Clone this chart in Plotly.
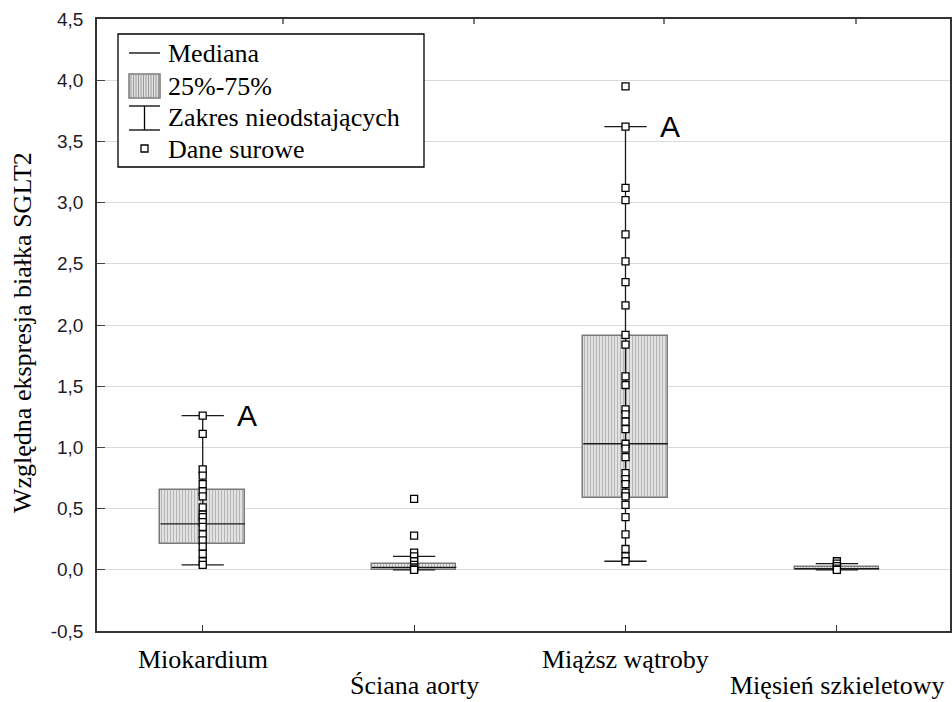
import plotly.graph_objects as go

# ---- data -------------------------------------------------------------
categories = ["Miokardium", "Ściana aorty", "Miąższ wątroby", "Mięsień szkieletowy"]

q1 = [0.21, 0.00, 0.59, 0.00]
median = [0.375, 0.02, 1.03, 0.01]
q3 = [0.65, 0.05, 1.91, 0.025]
whisker_low = [0.04, 0.00, 0.07, 0.00]
whisker_high = [1.26, 0.11, 3.62, 0.05]

raw_miokardium = [1.26, 1.11, 0.82, 0.77, 0.70, 0.64, 0.60, 0.51, 0.45, 0.43,
                  0.39, 0.35, 0.29, 0.24, 0.19, 0.13, 0.07, 0.04]
raw_aorta = [0.58, 0.28, 0.14, 0.11, 0.07, 0.04, 0.02, 0.01, 0.00]
raw_watroba = [3.95, 3.62, 3.12, 3.02, 2.74, 2.52, 2.35, 2.16, 1.92, 1.84,
               1.58, 1.51, 1.31, 1.27, 1.21, 1.15, 1.03, 0.99, 0.92, 0.79,
               0.74, 0.70, 0.63, 0.60, 0.53, 0.43, 0.29, 0.17, 0.11, 0.07]
raw_miesien = [0.07, 0.05, 0.03, 0.01, 0.00]
raw_values = [raw_miokardium, raw_aorta, raw_watroba, raw_miesien]

y_ticks = [-0.5, 0.0, 0.5, 1.0, 1.5, 2.0, 2.5, 3.0, 3.5, 4.0, 4.5]
y_tick_text = ["-0,5", "0,0", "0,5", "1,0", "1,5", "2,0", "2,5", "3,0", "3,5", "4,0", "4,5"]

y_title = "Względna ekspresja białka SGLT2"

# groups flagged with letter "A" (label sits next to the upper whisker)
letter_groups = [0, 2]
letter = "A"

legend_labels = ["Mediana", "25%-75%", "Zakres nieodstających", "Dane surowe"]

# ---- styling ----------------------------------------------------------
BOX_W = 0.40
CAP_W = 0.20
SERIF = "Liberation Serif, Times New Roman, serif"
SANS = "Liberation Sans, Arial, sans-serif"

W, H = 952, 702
L, R, T, B = 97, 950, 19, 631


def px(x):
    """pixel column -> paper x"""
    return (x - L) / (R - L)


def py(y):
    """pixel row -> paper y"""
    return (B - y) / (B - T)


xpos = list(range(len(categories)))

fig = go.Figure()

# interquartile boxes, hatched with vertical lines
fig.add_trace(go.Bar(
    x=xpos, y=[b - a for a, b in zip(q1, q3)], base=q1, width=BOX_W,
    marker=dict(color="#e0e0e0",
                line=dict(color="#7a7a7a", width=1.5),
                pattern=dict(shape="|", fgcolor="#8a8a8a", bgcolor="#e2e2e2",
                             size=3, solidity=0.35)),
    showlegend=False, hoverinfo="skip"))

# whiskers and caps
wx, wy = [], []
for i in xpos:
    wx += [i, i, None]
    wy += [whisker_low[i], whisker_high[i], None]
    for v in (whisker_low[i], whisker_high[i]):
        wx += [i - CAP_W / 2, i + CAP_W / 2, None]
        wy += [v, v, None]
fig.add_trace(go.Scatter(x=wx, y=wy, mode="lines",
                         line=dict(color="#1a1a1a", width=1.3),
                         showlegend=False, hoverinfo="skip"))

# medians
mx, my = [], []
for i in xpos:
    mx += [i - BOX_W / 2, i + BOX_W / 2, None]
    my += [median[i], median[i], None]
fig.add_trace(go.Scatter(x=mx, y=my, mode="lines",
                         line=dict(color="#1a1a1a", width=1.3),
                         showlegend=False, hoverinfo="skip"))

# raw data points
px_, py_ = [], []
for i, vals in enumerate(raw_values):
    px_ += [i] * len(vals)
    py_ += vals
fig.add_trace(go.Scatter(x=px_, y=py_, mode="markers",
                         marker=dict(symbol="square", size=7, color="white",
                                     line=dict(color="black", width=1.3)),
                         showlegend=False, hoverinfo="skip"))

# letters next to the upper whiskers
for i in letter_groups:
    fig.add_annotation(x=i + 0.21, y=whisker_high[i], text=letter,
                       showarrow=False, xanchor="center", yanchor="middle",
                       font=dict(family=SANS, size=30, color="black"))

# category labels, staggered over two rows
for i, name in enumerate(categories):
    row_y = 659 if i % 2 == 0 else 686
    fig.add_annotation(x=i, xref="x", y=py(row_y), yref="paper", text=name,
                       showarrow=False, xanchor="center", yanchor="middle",
                       borderpad=0,
                       font=dict(family=SERIF, size=26, color="black"))

# y axis title
fig.add_annotation(xref="paper", yref="paper", x=px(22), y=py(333), text=y_title,
                   textangle=-90, showarrow=False, xanchor="center", yanchor="middle",
                   font=dict(family=SERIF, size=26, color="black"))

# ---- legend drawn by hand ---------------------------------------------
shapes = []
shapes.append(dict(type="rect", xref="paper", yref="paper",
                   x0=px(118), x1=px(424), y0=py(167), y1=py(34),
                   line=dict(color="black", width=1.3), fillcolor="white", layer="above"))
# median symbol
shapes.append(dict(type="line", xref="paper", yref="paper",
                   x0=px(129), x1=px(160), y0=py(53), y1=py(53),
                   line=dict(color="black", width=1.3), layer="above"))
# hatched box symbol
shapes.append(dict(type="rect", xref="paper", yref="paper",
                   x0=px(129), x1=px(160), y0=py(98), y1=py(74),
                   line=dict(color="#7a7a7a", width=1.5), fillcolor="#e2e2e2", layer="above"))
hx = 131
while hx < 159:
    shapes.append(dict(type="line", xref="paper", yref="paper",
                       x0=px(hx), x1=px(hx), y0=py(97), y1=py(75),
                       line=dict(color="#9a9a9a", width=1), layer="above"))
    hx += 2.5
# whisker symbol
for yy in (106, 130):
    shapes.append(dict(type="line", xref="paper", yref="paper",
                       x0=px(129), x1=px(160), y0=py(yy), y1=py(yy),
                       line=dict(color="black", width=1.3), layer="above"))
shapes.append(dict(type="line", xref="paper", yref="paper",
                   x0=px(144.5), x1=px(144.5), y0=py(106), y1=py(130),
                   line=dict(color="black", width=1.3), layer="above"))
# raw data symbol
shapes.append(dict(type="rect", xref="paper", yref="paper",
                   x0=px(141), x1=px(148), y0=py(152), y1=py(145),
                   line=dict(color="black", width=1.3), fillcolor="white", layer="above"))

# small ticks on the top frame
for tx in (283, 474, 664, 856):
    shapes.append(dict(type="line", xref="paper", yref="paper",
                       x0=px(tx), x1=px(tx), y0=1, y1=py(T + 5),
                       line=dict(color="#333", width=1.3), layer="above"))

for lbl, yy in zip(legend_labels, (53, 86, 118, 149)):
    fig.add_annotation(xref="paper", yref="paper", x=px(166), y=py(yy),
                       text=lbl, showarrow=False, xanchor="left", yanchor="middle",
                       font=dict(family=SERIF, size=26, color="black"))

fig.update_layout(
    width=W, height=H,
    margin=dict(l=L, r=W - R, t=T, b=H - B),
    paper_bgcolor="white", plot_bgcolor="white",
    shapes=shapes,
    bargap=0,
    xaxis=dict(range=[-0.5, 3.535], tickvals=xpos, showticklabels=False,
               automargin=False,
               showgrid=False, zeroline=False,
               showline=True, linecolor="#333", linewidth=1.5, mirror=True,
               ticks="inside", ticklen=6, tickcolor="#333"),
    yaxis=dict(range=[-0.5, 4.5], tickvals=y_ticks, ticktext=y_tick_text,
               automargin=False,
               showgrid=True, gridcolor="#d9d9d9", gridwidth=1.3, zeroline=False,
               showline=True, linecolor="#333", linewidth=1.5, mirror=True,
               ticks="inside", ticklen=8, tickcolor="#444",
               ticklabelstandoff=8,
               tickfont=dict(family=SANS, size=19, color="#1c1c2c")),
)

fig.write_html("out.html")
